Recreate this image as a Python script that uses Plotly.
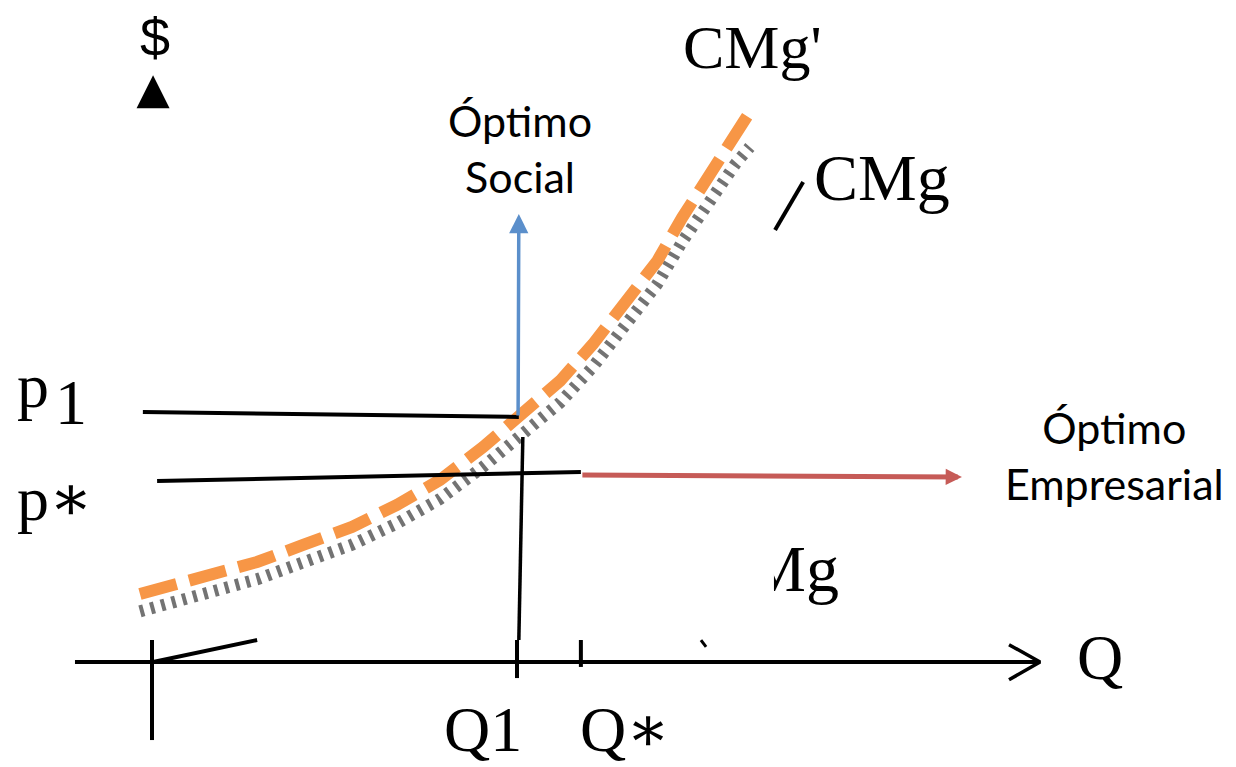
import plotly.graph_objects as go

# Quantity (Q) and price ($)
q_curve = [-0.33, 1.51, 2.88, 4.14, 5.48, 6.71, 7.89, 9.07, 10.16, 11.18,
           12.08, 12.96, 13.84, 14.52, 15.26, 16.00, 16.38]
cmg_social = [2.75, 3.44, 4.05, 4.74, 5.47, 6.36, 7.37, 8.70, 10.04, 11.38,
              12.87, 14.49, 16.23, 17.98, 19.76, 21.46, 22.27]   # CMg'
cmg_private = [2.05, 2.75, 3.35, 4.03, 4.75, 5.61, 6.60, 7.90, 9.20, 10.50,
               11.95, 13.55, 15.30, 17.00, 18.70, 20.20, 20.85]  # CMg

q1 = 10.0
q_star = 11.75
q_axis_end = 24.33

p1_line_q = [-0.25, 10.05]
p1_line_y = [10.12, 9.92]
pstar_line_q = [0.14, 11.75]
pstar_line_y = [7.33, 7.69]

red_arrow_q = [11.75, 22.19]
red_arrow_y = [7.57, 7.49]
blue_arrow_q = [10.03, 10.05]
blue_arrow_y = [9.92, 18.14]

q1_drop_q = [10.16, 10.05]
q1_drop_y = [9.11, 0.89]

fig = go.Figure()

# CMg (dotted texture) under CMg' (orange dashed)
fig.add_trace(go.Scatter(x=q_curve, y=cmg_private, mode="lines",
                         line=dict(color="rgba(40,40,40,0.65)", width=12, dash="4px,7px")))
fig.add_trace(go.Scatter(x=q_curve, y=cmg_social, mode="lines",
                         line=dict(color="#F79646", width=12, dash="38px,13px")))

black = dict(color="black", width=4)

def seg(xs, ys, line=black):
    fig.add_trace(go.Scatter(x=xs, y=ys, mode="lines", line=line))

# axes
seg([-2.11, q_axis_end], [0, 0])
seg([q_axis_end - 0.85, q_axis_end, q_axis_end - 0.85], [0.7, 0, -0.72], dict(color="black", width=3.5))
seg([0, 0], [0.89, -3.16])
seg([q1, q1], [0.89, -0.65])
seg([q_star, q_star], [0.89, -0.2])

# leftovers of the hidden curve
seg([0.03, 2.88], [0, 0.89])
seg([15.04, 15.18], [0.89, 0.61], dict(color="black", width=3))
seg([17.07, 17.84], [17.49, 19.43], dict(color="black", width=4))

# price lines and Q1 drop line
seg(p1_line_q, p1_line_y)
seg(pstar_line_q, pstar_line_y)
seg(q1_drop_q, q1_drop_y, dict(color="black", width=3.5))

fig.add_annotation(x=red_arrow_q[1], y=red_arrow_y[1], ax=red_arrow_q[0], ay=red_arrow_y[0],
                   xref="x", yref="y", axref="x", ayref="y", text="", showarrow=True,
                   arrowhead=2, arrowsize=0.65, arrowwidth=5, arrowcolor="#C65B57")
fig.add_annotation(x=blue_arrow_q[1], y=blue_arrow_y[1], ax=blue_arrow_q[0], ay=blue_arrow_y[0],
                   xref="x", yref="y", axref="x", ayref="y", text="", showarrow=True,
                   arrowhead=2, arrowsize=1.1, arrowwidth=3.5, arrowcolor="#5B8FCB")
# $ axis arrow head
fig.add_annotation(x=0.03, y=23.75, ax=0.03, ay=22.6,
                   xref="x", yref="y", axref="x", ayref="y", text="", showarrow=True,
                   arrowhead=2, arrowsize=2.2, arrowwidth=3, arrowcolor="black")

serif = dict(family="Liberation Serif, DejaVu Serif", size=64, color="black")
sans = dict(family="Lato, Noto Sans", size=43, color="black")

labels = [
    ("$", 0.08, 25.3, "center", dict(family="Liberation Sans", size=54, color="black")),
    ("CMg'", 16.45, 24.9, "center", dict(serif, size=62)),
    ("CMg", 20.0, 19.61, "center", dict(serif, size=66)),
    ("p", -3.75, 11.2, "left", serif),
    ("1", -2.7, 10.5, "left", serif),
    ("p\u2217", -3.75, 6.6, "left", serif),
    ("Q1", 9.07, -2.75, "center", serif),
    ("Q\u2217", 12.96, -2.75, "center", serif),
    ("Q", 25.97, 0.17, "center", serif),
    ("Óptimo<br>Social", 10.08, 20.8, "center", sans),
    ("Óptimo<br>Empresarial", 26.38, 8.38, "center", sans),
]
for txt, x, y, anchor, font in labels:
    fig.add_annotation(x=x, y=y, text=txt, showarrow=False, xanchor=anchor,
                       yanchor="middle", font=font)

# bottom CMg label, partly hidden as in the original
fig.add_trace(go.Scatter(x=[18.82], y=[3.54], mode="text", text=["CMg"],
                         textposition="middle left", textfont=dict(serif, size=66)))
fig.add_shape(type="rect", x0=14.3, x1=17.04, y0=2.0, y1=5.4, layer="above",
              fillcolor="white", line=dict(width=0))

# the page body keeps an 8px margin, so the figure is 8px smaller and the
# ranges start 8px in
fig.update_layout(
    width=1228, height=759,
    margin=dict(l=0, r=0, t=0, b=0),
    showlegend=False,
    plot_bgcolor="white", paper_bgcolor="white",
    xaxis=dict(range=[-3.9452, 29.6986], visible=False, fixedrange=True),
    yaxis=dict(range=[-4.2510, 26.4777], visible=False, fixedrange=True),
)

fig.write_html("out.html")
